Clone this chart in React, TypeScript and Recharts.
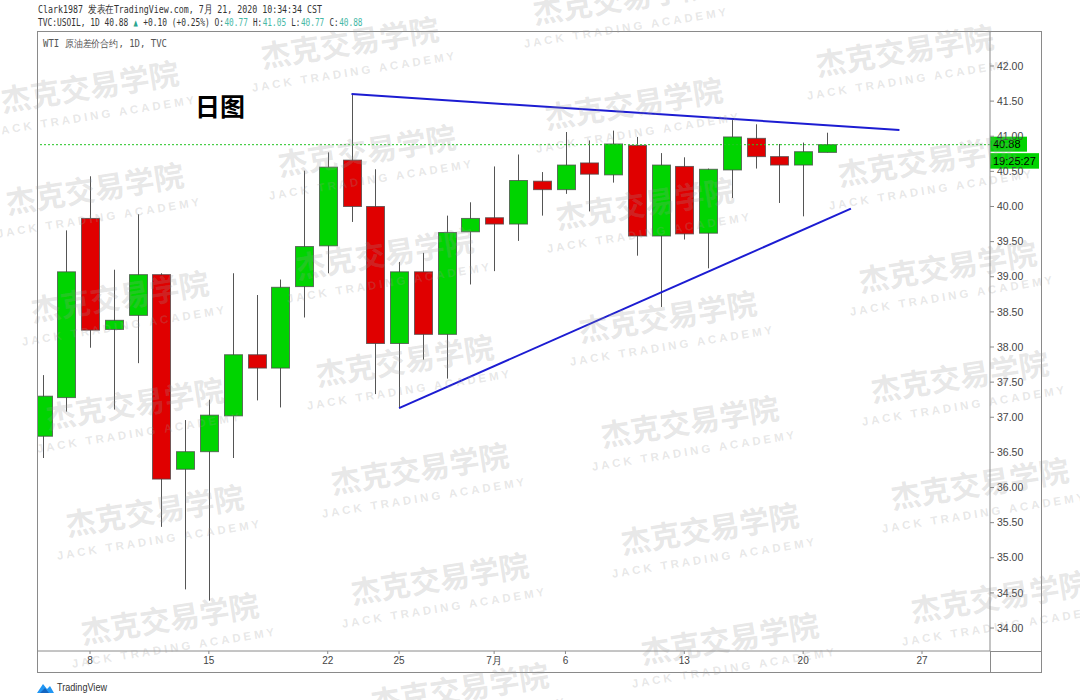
import React from 'react';
import { ComposedChart, Bar, XAxis, YAxis, ReferenceLine } from 'recharts';

// ---- data (WTI daily, 2020-06-04 .. 2020-07-21) ----
const dates = [
  '06-04', '06-05', '06-08', '06-09', '06-10', '06-11', '06-12', '06-15', '06-16', '06-17',
  '06-18', '06-19', '06-22', '06-23', '06-24', '06-25', '06-26', '06-29', '06-30', '07-01',
  '07-02', '07-03', '07-06', '07-07', '07-08', '07-09', '07-10', '07-13', '07-14', '07-15',
  '07-16', '07-17', '07-20', '07-21',
];
const opens = [
  36.73, 37.28, 39.83, 38.25, 38.45, 39.03, 36.26, 36.51, 37.02, 37.89,
  37.70, 38.86, 39.44, 40.66, 40.00, 38.05, 39.07, 38.18, 39.64, 39.84,
  39.75, 40.36, 40.24, 40.62, 40.45, 40.87, 39.58, 40.57, 39.62, 40.52,
  40.97, 40.71, 40.59, 40.77,
];
const highs = [
  37.60, 39.66, 40.43, 39.10, 39.89, 39.05, 36.96, 37.25, 39.05, 38.74,
  38.96, 40.51, 40.77, 41.60, 40.53, 39.21, 39.34, 39.87, 40.06, 40.57,
  40.74, 40.49, 41.06, 40.94, 41.08, 40.99, 40.76, 40.70, 40.54, 41.23,
  41.17, 40.89, 40.91, 41.05,
];
const lows = [
  36.42, 37.08, 37.99, 37.11, 37.77, 35.44, 34.55, 34.39, 36.42, 37.24,
  37.14, 38.42, 39.05, 39.78, 37.33, 37.13, 37.82, 37.55, 38.89, 39.08,
  39.51, 39.87, 40.18, 39.93, 40.34, 39.30, 38.57, 39.53, 39.12, 40.12,
  40.54, 40.05, 39.86, 40.77,
];
const closes = [
  37.30, 39.07, 38.24, 38.38, 39.03, 36.12, 36.51, 37.03, 37.89, 37.70,
  38.85, 39.43, 40.56, 40.00, 38.05, 39.07, 38.18, 39.63, 39.83, 39.75,
  40.37, 40.24, 40.59, 40.46, 40.89, 39.58, 40.59, 39.61, 40.53, 40.99,
  40.71, 40.59, 40.78, 40.88,
];

const xTickIndex = [2, 7, 12, 15, 19, 22, 27, 32, 37];
const xTickLabels = ['8', '15', '22', '25', '7月', '6', '13', '20', '27'];
const yTicks = [34, 34.5, 35, 35.5, 36, 36.5, 37, 37.5, 38, 38.5, 39, 39.5, 40, 40.5, 41, 41.5, 42];

const upperTrend = [{ x: 13, y: 41.6 }, { x: 36.05, y: 41.09 }];
const lowerTrend = [{ x: 15, y: 37.13 }, { x: 34.01, y: 39.97 }];
const lastPrice = 40.88;
const countdown = '19:25:27';

// header line 2 segments: [text, start column, colour]
const headerSegments: [string, number, string][] = [
  ['TVC:USOIL, 1D 40.88', 0, '#333'],
  ['▲', 20, '#2aa58f'],
  ['+0.10 (+0.25%) O:', 22, '#333'],
  ['40.77', 39, '#46b8a6'],
  ['H:', 45, '#333'],
  ['41.05', 47, '#46b8a6'],
  ['L:', 53, '#333'],
  ['40.77', 55, '#46b8a6'],
  ['C:', 61, '#333'],
  ['40.88', 63, '#46b8a6'],
];

const data = dates.map((d, i) => ({
  idx: i,
  date: d,
  open: opens[i],
  high: highs[i],
  low: lows[i],
  close: closes[i],
  range: [lows[i], highs[i]],
}));

const GREEN = '#00d400';
const RED = '#e00000';
const WICK = '#555555';

const Candle = (props: any) => {
  const { x, y, width, height, payload } = props;
  if (x == null || y == null || !payload) return null;
  const top = Math.min(y, y + height);
  const h = Math.abs(height);
  const { open, close, high, low } = payload;
  const ratio = h / (high - low || 1);
  const cx = Math.round(x + width / 2) + 0.5;
  const yO = top + (high - open) * ratio;
  const yC = top + (high - close) * ratio;
  const up = close >= open;
  const bTop = Math.min(yO, yC);
  const bH = Math.max(Math.abs(yO - yC), 1);
  const w = 18;
  return (
    <g>
      <line x1={cx} x2={cx} y1={top} y2={top + h} stroke={WICK} strokeWidth={1} />
      <rect x={cx - w / 2} y={bTop} width={w} height={bH} fill={up ? GREEN : RED} stroke="#4a4a4a" strokeOpacity={0.75} strokeWidth={1} />
    </g>
  );
};

const PriceTag = (props: any) => {
  const vb = props.viewBox || {};
  const right = (vb.x || 0) + (vb.width || 0);
  const yy = vb.y || 0;
  return (
    <g>
      <rect x={right} y={yy - 8} width={37} height={15} fill={GREEN} />
      <text x={right + 3} y={yy + 3.5} fontSize={11} fill="#000" fontFamily="Liberation Sans, Arial, sans-serif">{lastPrice.toFixed(2)}</text>
      <rect x={right} y={yy + 8.5} width={49} height={15.5} fill={GREEN} />
      <text x={right + 3} y={yy + 20.5} fontSize={11} fill="#000" fontFamily="Liberation Sans, Arial, sans-serif">{countdown}</text>
    </g>
  );
};

const watermarks = [
  [622, 0], [350, 44], [905, 52], [90, 88], [634, 105], [367, 152], [927, 162],
  [95, 190], [645, 205], [385, 255], [948, 268], [120, 298], [668, 318], [405, 362],
  [960, 378], [135, 405], [690, 423], [420, 470], [980, 485], [155, 512], [710, 530],
  [440, 580], [1000, 598], [170, 620], [730, 640], [460, 690],
];

const FRAME = '#8a8a8a';
const COL = 4.78;

export default function App() {
  return (
    <div style={{ position: 'absolute', left: 0, top: 0, width: 1080, height: 700, background: '#fff' }}>
      <ComposedChart
        width={1080}
        height={700}
        data={data}
        margin={{ top: 31, left: 37, right: 38, bottom: 27 }}
        style={{ fontFamily: 'Liberation Sans, Arial, sans-serif' }}
      >
        <XAxis
          dataKey="idx"
          type="number"
          domain={[-0.23, 39.86]}
          allowDataOverflow
          ticks={xTickIndex}
          tickFormatter={(v: number) => xTickLabels[xTickIndex.indexOf(v)] ?? ''}
          height={22}
          tickSize={3}
          tickMargin={3}
          stroke={FRAME}
          tick={{ fill: '#444', fontSize: 10 }}
          interval={0}
        />
        <YAxis
          orientation="right"
          type="number"
          domain={[33.673, 42.498]}
          allowDataOverflow
          ticks={yTicks}
          tickFormatter={(v: number) => v.toFixed(2)}
          width={52}
          tickSize={4}
          tickMargin={3}
          stroke={FRAME}
          tick={{ fill: '#444', fontSize: 10.5 }}
          interval={0}
        />
        <ReferenceLine y={lastPrice} stroke="#22c422" strokeDasharray="2 2" strokeWidth={1} label={<PriceTag />} />
        <Bar dataKey="range" barSize={18} shape={<Candle />} isAnimationActive={false} />
        <ReferenceLine segment={upperTrend} stroke="#1c1cd2" strokeWidth={2} ifOverflow="visible" />
        <ReferenceLine segment={lowerTrend} stroke="#1c1cd2" strokeWidth={2} ifOverflow="visible" />
      </ComposedChart>
      <svg width={1080} height={700} style={{ position: 'absolute', left: 0, top: 0, pointerEvents: 'none' }}>
        {/* frame */}
        <rect x={37.5} y={31.5} width={1004} height={641} fill="none" stroke={FRAME} strokeWidth={1} />
        <line x1={990.5} x2={990.5} y1={651} y2={673} stroke={FRAME} />
        <line x1={990} x2={1042} y1={651.5} y2={651.5} stroke={FRAME} />
        {/* header */}
        <text x={38} y={13} fontSize={10.5} fontFamily="DejaVu Sans Mono, monospace" fill="#333" textLength={284} lengthAdjust="spacingAndGlyphs">
          Clark1987 发表在TradingView.com, 7月 21, 2020 10:34:34 CST
        </text>
        {headerSegments.map(([t, col, c], i) => (
          <text key={i} x={38 + col * COL} y={25.5} fontSize={10.5} fontFamily="DejaVu Sans Mono, monospace" fill={c}
            textLength={t.length * COL - 0.5} lengthAdjust="spacingAndGlyphs">{t}</text>
        ))}
        <text x={43} y={47} fontSize={10} fontFamily="DejaVu Sans Mono, monospace" fill="#555" textLength={124} lengthAdjust="spacingAndGlyphs">
          WTI 原油差价合约, 1D, TVC
        </text>
        <text x={195} y={116} fontSize={25} fontWeight="bold" fontFamily="Noto Sans CJK SC, sans-serif" fill="#000">日图</text>
        {/* watermarks */}
        {watermarks.map(([cx, cy], i) => (
          <g key={i} transform={`translate(${cx},${cy}) rotate(-9)`} fill="#9a9a9a" fillOpacity={0.24}>
            <text x={0} y={10} textAnchor="middle" fontSize={30} fontWeight="bold" fontFamily="Noto Sans CJK SC, sans-serif">杰克交易学院</text>
            <text x={0} y={32} textAnchor="middle" fontSize={11.5} fontWeight="bold" letterSpacing={3} fontFamily="Liberation Sans, Arial, sans-serif">JACK TRADING ACADEMY</text>
          </g>
        ))}
        {/* TradingView logo */}
        <g>
          <path d="M37 693 L43 684 L47 689 L50 686 L54 693 Z" fill="#2196f3" />
          <path d="M40 693 L45 688 L49 693 Z" fill="#1565c0" />
          <text x={57} y={691} fontSize={10} fill="#333" fontFamily="Liberation Sans, Arial, sans-serif" textLength={50} lengthAdjust="spacingAndGlyphs">TradingView</text>
        </g>
      </svg>
    </div>
  );
}
